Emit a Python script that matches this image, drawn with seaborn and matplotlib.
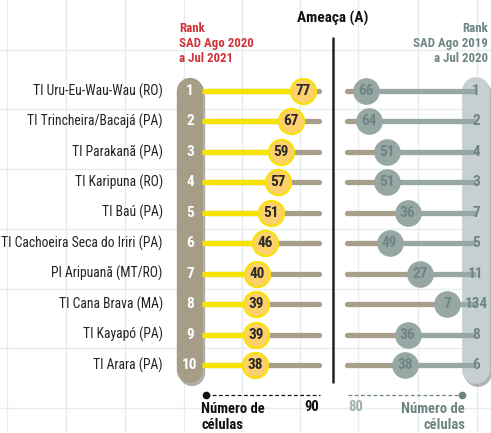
import matplotlib.pyplot as plt
import matplotlib.patheffects as pe
import pandas as pd
import seaborn as sns

# Data
names = [
    "TI Uru-Eu-Wau-Wau (RO)",
    "TI Trincheira/Bacajá (PA)",
    "TI Parakanã (PA)",
    "TI Karipuna (RO)",
    "TI Baú (PA)",
    "TI Cachoeira Seca do Iriri (PA)",
    "PI Aripuanã (MT/RO)",
    "TI Cana Brava (MA)",
    "TI Kayapó (PA)",
    "TI Arara (PA)",
]
rank_2021 = [1, 2, 3, 4, 5, 6, 7, 8, 9, 10]
cells_2021 = [77, 67, 59, 57, 51, 46, 40, 39, 39, 38]
rank_2020 = [1, 2, 4, 3, 7, 5, 11, 134, 8, 6]
cells_2020 = [66, 64, 51, 51, 36, 49, 27, 7, 36, 38]

df = pd.DataFrame({"name": names, "rank": rank_2021, "cells": cells_2021,
                   "rank_prev": rank_2020, "cells_prev": cells_2020})

W, H = 491, 433
sns.set_theme(style="white")
plt.rcParams["font.family"] = ["Roboto Condensed", "Archivo Narrow", "DejaVu Sans"]

RED = "#cf3439"
TEAL = "#6f8584"
BEIGE = "#a89f8a"
YELLOW = "#f6e400"
ORANGE = "#fdd06c"
GTEAL = "#97a7a4"
PILL_R = "#c6d0d0"
GRID = "#e6ecef"

fig = plt.figure(figsize=(W / 100, H / 100), dpi=100)

# background grid
bg = fig.add_axes([0, 0, 1, 1])
bg.set_xlim(0, W)
bg.set_ylim(H, 0)
bg.axis("off")
for gx in [7, 66, 125, 184, 242, 300, 358, 418, 477]:
    bg.axvline(gx, color=GRID, lw=1)
for gy in [50, 109, 169, 229, 289, 348, 408]:
    bg.axhline(gy, color=GRID, lw=1)

# row mapping: rank 1 at y=91 px, rank 10 at y=365 px
ppr = (365 - 91) / 9
ytop = 1 - 91 / ppr
ybot = 10 + (H - 365) / ppr

# left panel: 0 at x=208 px, 90 at x=319 px
kl = (319 - 208) / 90
axl = fig.add_axes([170 / W, 0, (333 - 170) / W, 1])

# right panel: 0 at x=457 px, 80 at x=347 px
kr = (457 - 347) / 80
axr = fig.add_axes([333 / W, 0, (W - 333) / W, 1])

shadow = [pe.SimpleLineShadow(offset=(1.5, -2.5), shadow_color="#555", alpha=0.45), pe.Normal()]

# left pill and lines
pl = -(208 - 190) / kl
axl.plot([pl, pl], [1, 10.15], color="#a69d87", lw=19, solid_capstyle="round",
         path_effects=shadow, zorder=1)
axl.hlines(df["rank"], 0, 90, color=BEIGE, lw=3.8, capstyle="round", zorder=2)
axl.hlines(df["rank"], pl + 10, df["cells"], color=YELLOW, lw=3.8, zorder=3)
sns.scatterplot(data=df, x="cells", y="rank", s=330, color=ORANGE,
                edgecolor=YELLOW, linewidth=1.5, ax=axl, zorder=4, legend=False)
axl.set_xlim(-(208 - 170) / kl, (333 - 208) / kl)
axl.set_ylim(ybot, ytop)
axl.axis("off")
for r, v, n in zip(df["rank"], df["cells"], df["name"]):
    axl.text(v, r, str(v), ha="center", va="center", fontsize=11,
             fontweight="bold", color="#2a2a2a", zorder=5)
    axl.text(pl, r, str(r), ha="center", va="center", fontsize=11,
             fontweight="bold", color="white", zorder=5)
    axl.text(pl - 22, r, n, ha="right", va="center", fontsize=9.8,
             color="#222222")

# right pill and lines
pr = -(476 - 457) / kr
axr.plot([pr, pr], [1, 10.15], color=PILL_R, lw=20, solid_capstyle="round",
         path_effects=shadow, zorder=1)
axr.hlines(df["rank"], 80, df["cells_prev"], color=BEIGE, lw=3.8, capstyle="round", zorder=2)
axr.hlines(df["rank"], df["cells_prev"], pr, color=GTEAL, lw=3.8, zorder=2)
sns.scatterplot(data=df, x="cells_prev", y="rank", s=330, color=GTEAL,
                edgecolor=GTEAL, linewidth=1, ax=axr, zorder=4, legend=False)
axr.set_xlim((457 - 333) / kr, -(W - 457) / kr)
axr.set_ylim(ybot, ytop)
axr.axis("off")
for r, v, rp in zip(df["rank"], df["cells_prev"], df["rank_prev"]):
    axr.text(v, r, str(v), ha="center", va="center", fontsize=11,
             fontweight="bold", color=TEAL, zorder=5)
    axr.text(pr, r, str(rp), ha="center", va="center", fontsize=11,
             fontweight="bold", color=TEAL, zorder=5)

# headers
fig.text(333 / W, 1 - 18 / H, "Ameaça (A)", ha="center", va="center",
         fontsize=11, fontweight="bold", color="#111111")
bg.plot([333, 333], [38, 382], color="#222222", lw=1.8)
fig.text(179 / W, 1 - 43 / H, "Rank\nSAD Ago 2020\na Jul 2021", ha="left",
         va="center", fontsize=9.3, fontweight="bold", color=RED, linespacing=1.2)
fig.text(488 / W, 1 - 43 / H, "Rank\nSAD Ago 2019\na Jul 2020", ha="right",
         va="center", fontsize=9.3, fontweight="bold", color=TEAL, linespacing=1.2)

# bottom scale keys
bg.plot([206, 320], [395, 395], color="#111111", lw=0.9, ls=(0, (3, 2)))
bg.plot([206], [395], "o", color="#111111", ms=4.5)
fig.text(201 / W, 1 - 417 / H, "Número de\ncélulas", ha="left", va="center",
         fontsize=10.5, fontweight="bold", color="#111111", linespacing=1.1)
fig.text(319 / W, 1 - 407 / H, "90", ha="right", va="center",
         fontsize=10.5, fontweight="bold", color="#111111")
bg.plot([348, 462], [395, 395], color=TEAL, lw=0.9, ls=(0, (3, 2)))
bg.plot([462], [395], "o", color=TEAL, ms=4.5)
fig.text(465 / W, 1 - 417 / H, "Número de\ncélulas", ha="right", va="center",
         fontsize=10.5, fontweight="bold", color=TEAL, linespacing=1.1)
fig.text(348 / W, 1 - 407 / H, "80", ha="left", va="center",
         fontsize=10.5, fontweight="bold", color="#9fb0ae")

fig.savefig("out.png", dpi=100)
